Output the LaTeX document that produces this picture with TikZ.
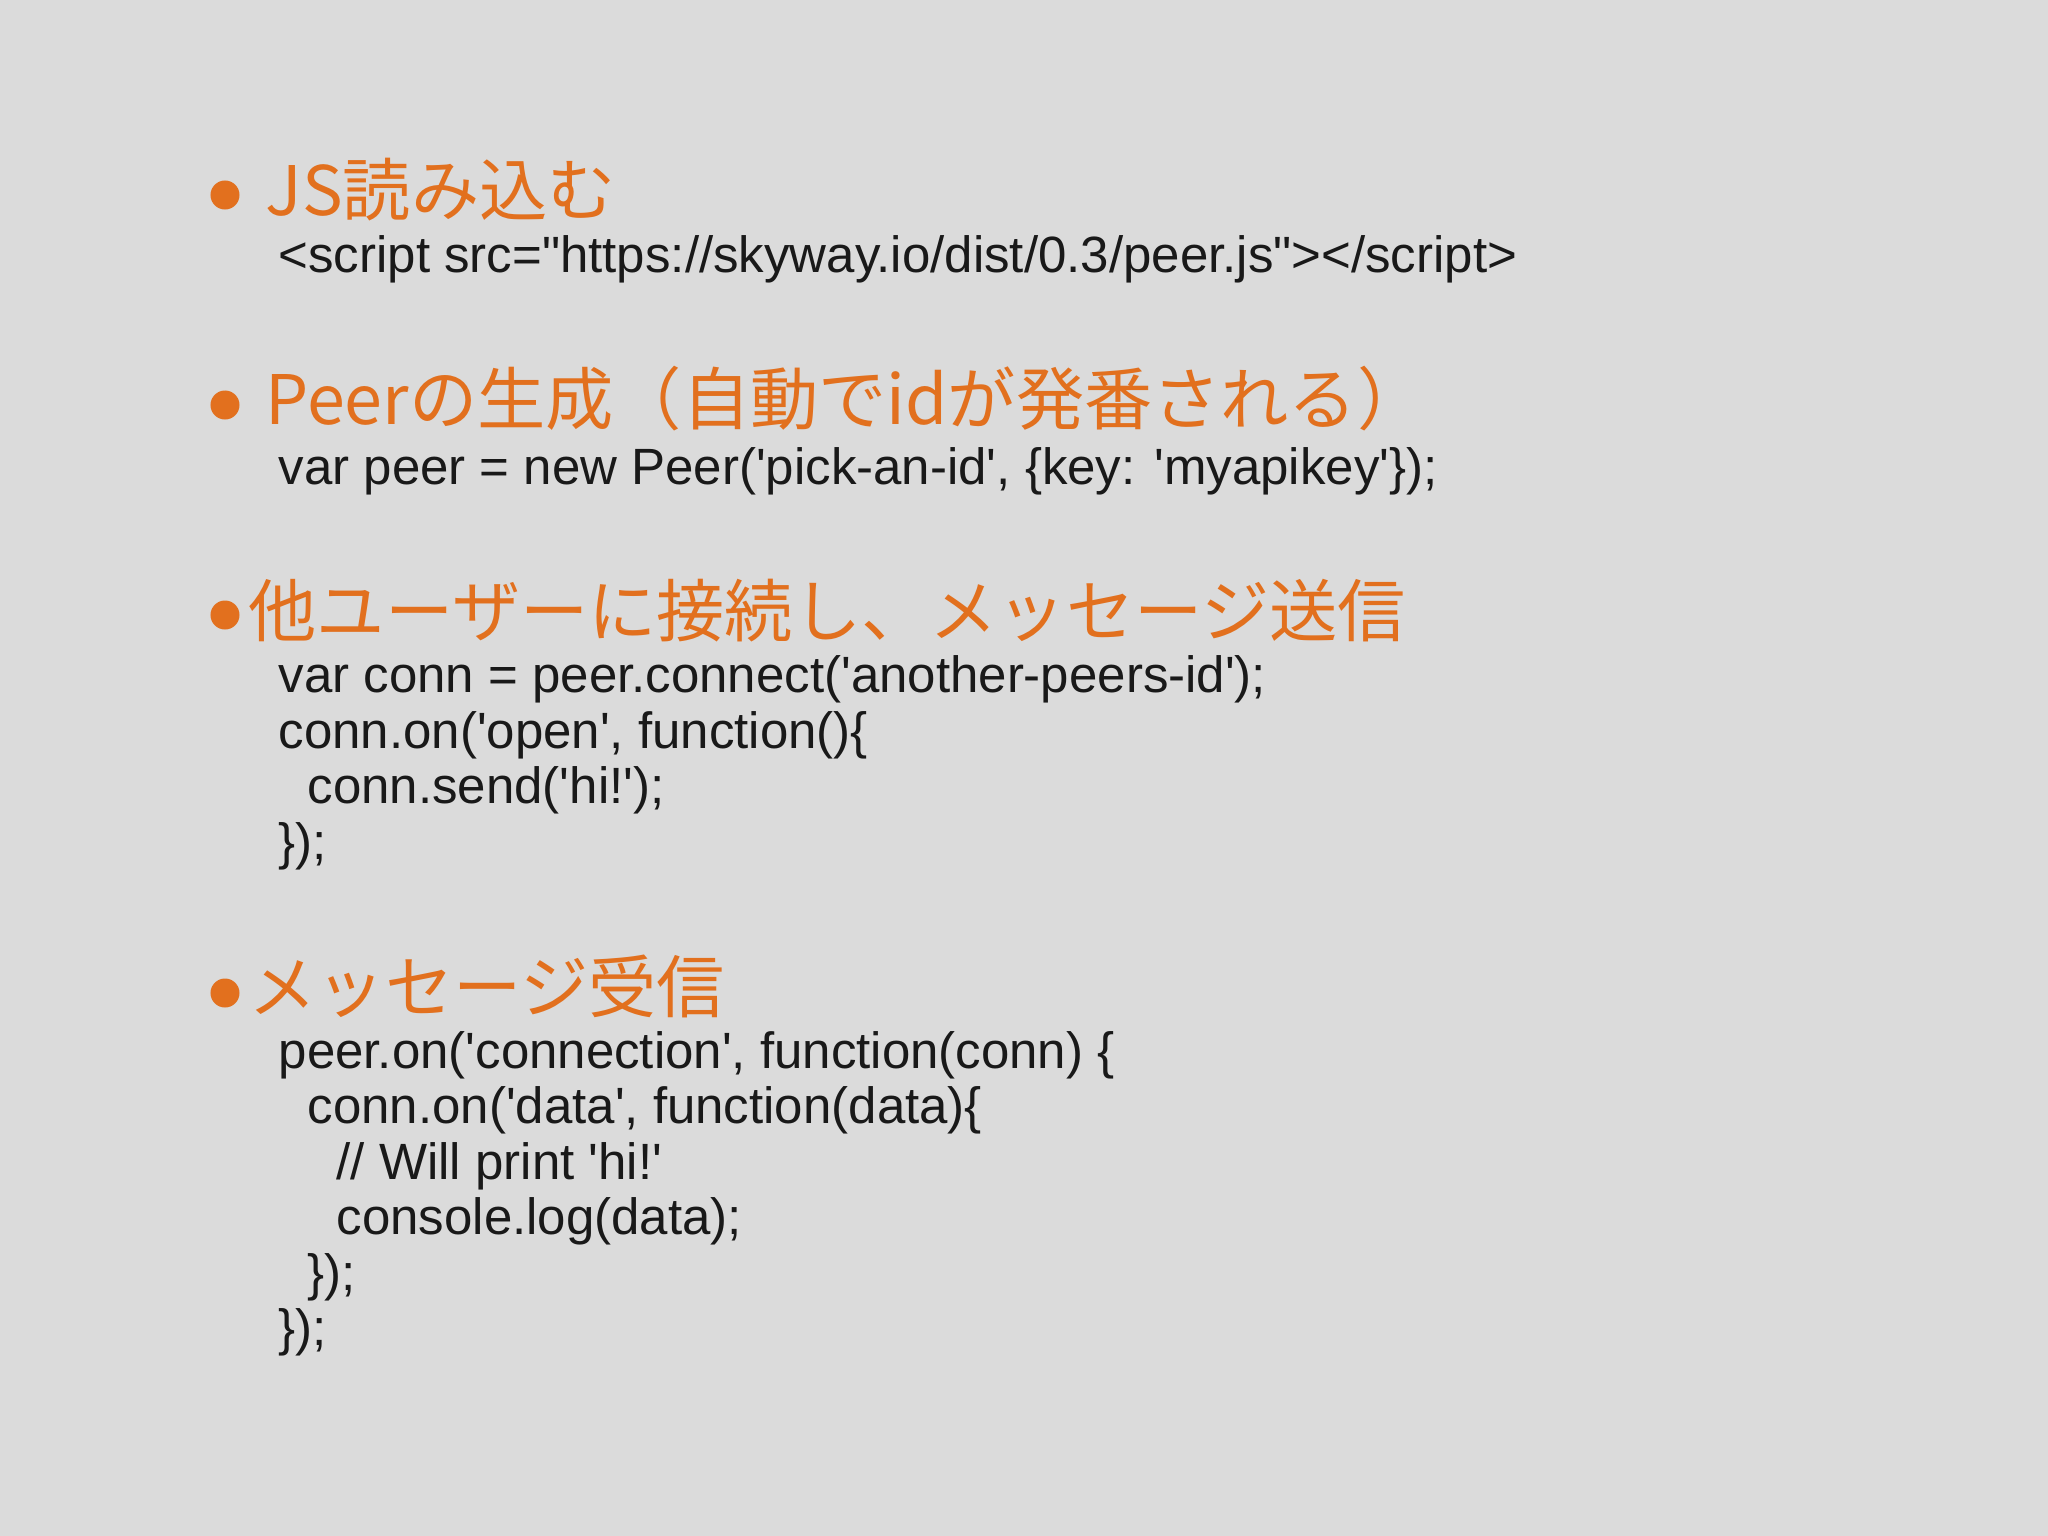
\documentclass[tikz,border=0pt]{standalone}
\usepackage{fontspec}
\newfontfamily\jpfont{Noto Sans CJK JP}
\newfontfamily\codefont{Liberation Sans}
\definecolor{hd}{HTML}{E2701E}
\definecolor{bg}{HTML}{DBDBDB}
\begin{document}
\begin{tikzpicture}[x=0.01cm,y=-0.01cm,
  head/.style={anchor=base west,inner sep=0,text=hd,font=\jpfont\fontsize{19.4}{22}\selectfont},
  code/.style={anchor=base west,inner sep=0,text=black!90,font=\codefont\fontsize{14.5}{17}\selectfont},
  dot/.style={circle,fill=hd,inner sep=0,minimum size=0.29cm}]
\fill[bg] (0,0) rectangle (2048,1536);
\useasboundingbox (0,0) rectangle (2048,1536);
\node[dot] (b1) at (225,195) {};
\node[head] (h1) at (265,215) {JS読み込む};
\node[code] (c1) at (278,272) {<script src="https://skyway.io/dist/0.3/peer.js"></script>};
\node[dot] (b2) at (225,405) {};
\node[head] (h2) at (265,424) {Peerの生成（自動でidが発番される）};
\node[code] (c2) at (278,484) {var peer = new Peer('pick-an-id', \{key: 'myapikey'\});};
\node[dot] (b3) at (225,615) {};
\node[head] (h3) at (248,636) {他ユーザーに接続し、メッセージ送信};
\node[code] (c3a) at (278,692) {var conn = peer.connect('another-peers-id');};
\node[code] (c3b) at (278,748) {conn.on('open', function()\{};
\node[code] (c3c) at (307,803) {conn.send('hi!');};
\node[code] (c3d) at (278,859) {\});};
\node[dot] (b4) at (225,993) {};
\node[head] (h4) at (248,1012) {メッセージ受信};
\node[code] (c4a) at (278,1068) {peer.on('connection', function(conn) \{};
\node[code] (c4b) at (307,1123) {conn.on('data', function(data)\{};
\node[code] (c4c) at (336,1179) {// Will print 'hi!'};
\node[code] (c4d) at (336,1234) {console.log(data);};
\node[code] (c4e) at (307,1290) {\});};
\node[code] (c4f) at (278,1345) {\});};
\end{tikzpicture}
\end{document}
